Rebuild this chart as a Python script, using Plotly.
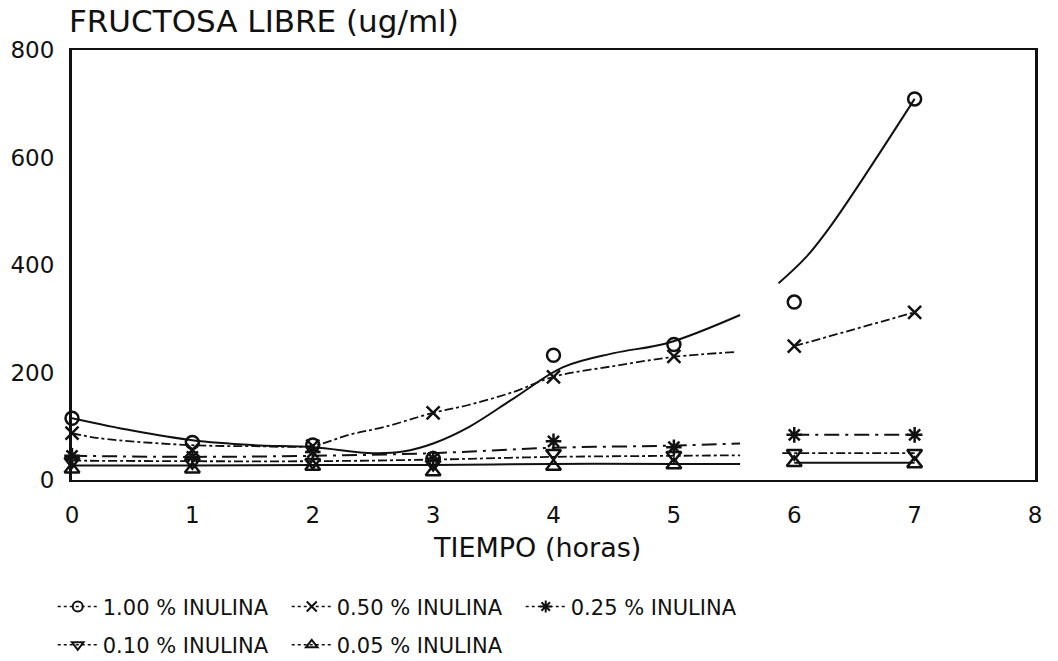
import plotly.graph_objects as go

# ---- data ----
hours = [0, 1, 2, 3, 4, 5, 6, 7]
series_names = ["1.00 % INULINA", "0.50 % INULINA", "0.25 % INULINA",
                "0.10 % INULINA", "0.05 % INULINA"]
inulina_100 = [115, 70, 65, 40, 232, 252, 331, 709]
inulina_050 = [87, 56, 63, 125, 192, 230, 249, 312]
inulina_025 = [45, 43, 52, 40, 72, 61, 84, 84]
inulina_010 = [35, 33, 33, 30, 50, 46, 50, 50]
inulina_005 = [20, 20, 25, 15, 25, 28, 32, 30]

# fitted curves as drawn in the picture (gaps kept)
fit_100_t = [0, 0.5, 1, 1.5, 2, 2.5, 2.75, 3, 3.3, 3.67, 4.08, 4.5, 4.95, 5.55, None,
             5.87, 6.1, 6.32, 7]
fit_100_v = [115, 92, 74, 65, 61, 50, 53, 68, 99, 152, 210, 236, 255, 307, None,
             366, 415, 478, 709]
fit_050_t = [0, 0.22, 0.97, 1.5, 2, 2.3, 2.6, 3, 3.3, 3.67, 4, 4.5, 5, 5.5, None, 6, 7]
fit_050_v = [87, 78, 65, 63, 64, 84, 99, 125, 140, 164, 192, 212, 229, 238, None, 249, 312]
fit_025_t = [0, 1, 2, 3, 4, 5, 5.55, None, 6, 7]
fit_025_v = [45, 43, 45, 50, 60, 64, 68, None, 84, 84]
fit_010_t = [0, 1, 2, 3, 4, 5, 5.55, None, 5.9, 7]
fit_010_v = [36, 35, 35, 38, 43, 45, 46, None, 50, 50]
fit_005_t = [0, 1, 2, 3, 4, 5, 5.55, None, 6, 7]
fit_005_v = [27, 27, 28, 28, 30, 30, 30, None, 32, 32]

x_ticks = [0, 1, 2, 3, 4, 5, 6, 7, 8]
y_ticks = [0, 200, 400, 600, 800]

FONT = "DejaVu Sans, Liberation Sans, sans-serif"
BLACK = "#111111"

points = [inulina_100, inulina_050, inulina_025, inulina_010, inulina_005]
fits = [(fit_100_t, fit_100_v), (fit_050_t, fit_050_v), (fit_025_t, fit_025_v),
        (fit_010_t, fit_010_v), (fit_005_t, fit_005_v)]
symbols = ["circle-open", "x-thin-open", "asterisk-open", "triangle-down-open", "triangle-up-open"]
dashes = ["solid", "dashdot", "longdashdot", "dashdot", "solid"]
widths = [2, 1.8, 2, 1.8, 2]
legend_of = ["legend", "legend", "legend", "legend2", "legend2"]

fig = go.Figure()

for i in range(5):
    ft, fv = fits[i]
    fig.add_trace(go.Scatter(x=ft, y=fv, mode="lines", line_shape="spline",
                             connectgaps=False,
                             line=dict(color=BLACK, width=widths[i], dash=dashes[i]),
                             showlegend=False, hoverinfo="skip"))

for i in range(5):
    fig.add_trace(go.Scatter(x=hours, y=points[i], mode="markers", cliponaxis=False,
                             marker=dict(symbol=symbols[i], size=13, color=BLACK,
                                         line=dict(color=BLACK, width=2.5)),
                             showlegend=False, name=series_names[i]))

# legend entries
for i in range(5):
    fig.add_trace(go.Scatter(x=[None], y=[None], mode="lines+markers",
                             name=series_names[i], legend=legend_of[i],
                             marker=dict(symbol=symbols[i], size=10, color=BLACK,
                                         line=dict(color=BLACK, width=2)),
                             line=dict(color=BLACK, width=1.5, dash="dot")))

legend_common = dict(orientation="h", xanchor="left", yanchor="middle",
                     entrywidth=179, entrywidthmode="pixels", itemwidth=40,
                     font=dict(size=21, family=FONT, color=BLACK),
                     bgcolor="rgba(0,0,0,0)")

fig.update_layout(
    width=1058, height=661,
    margin=dict(l=72, r=23, t=50, b=181, autoexpand=False),
    paper_bgcolor="white", plot_bgcolor="white",
    font=dict(family=FONT, color=BLACK),
    showlegend=True,
    legend=dict(x=-0.02, y=-0.295, **legend_common),
    legend2=dict(x=-0.02, y=-0.384, **legend_common),
    xaxis=dict(range=[0, 8], tickvals=x_ticks, ticktext=[str(v) for v in x_ticks],
               showgrid=False, zeroline=False, showline=True, mirror=True,
               linecolor=BLACK, linewidth=1.5, ticks="", ticklabelstandoff=14,
               tickfont=dict(size=23, family=FONT, color=BLACK)),
    yaxis=dict(range=[0, 800], tickvals=y_ticks, ticktext=[str(v) for v in y_ticks],
               showgrid=False, zeroline=False, showline=True, mirror=True,
               linecolor=BLACK, linewidth=3, ticks="", ticklabelstandoff=10,
               tickfont=dict(size=23, family=FONT, color=BLACK)),
    annotations=[
        dict(text="FRUCTOSA LIBRE (ug/ml)", xref="paper", yref="paper",
             x=-0.005, y=1.02, xanchor="left", yanchor="bottom", showarrow=False,
             font=dict(size=31, family=FONT, color=BLACK)),
        dict(text="TIEMPO (horas)", xref="paper", yref="paper",
             x=0.483, y=-0.158, xanchor="center", yanchor="middle", showarrow=False,
             font=dict(size=27, family=FONT, color=BLACK)),
    ],
)

fig.write_html("out.html")
